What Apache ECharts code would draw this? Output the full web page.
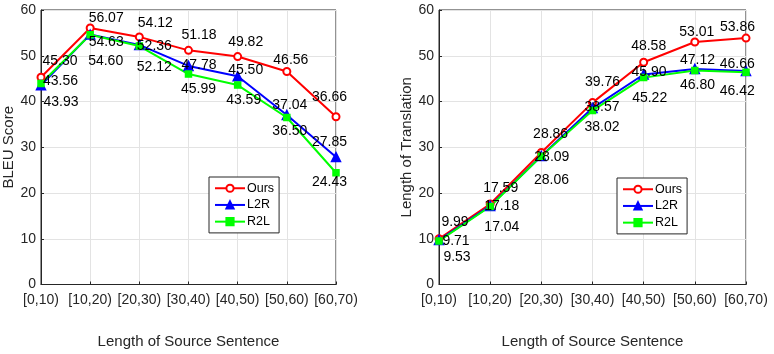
<!DOCTYPE html>
<html>
<head>
<meta charset="utf-8">
<script src="https://cdn.jsdelivr.net/npm/echarts@6/dist/echarts.min.js"></script>
<style>
html,body{margin:0;padding:0;background:#fff;}
#chart{width:774px;height:354px;}
</style>
</head>
<body>
<div id="chart"></div>
<script>
var categories = ['[0,10)','[10,20)','[20,30)','[30,40)','[40,50)','[50,60)','[60,70)'];
var yTicks = [0,10,20,30,40,50,60];

var bleuOurs = [45.30,56.07,54.12,51.18,49.82,46.56,36.66];
var bleuL2R  = [43.56,54.63,52.36,47.78,45.50,37.04,27.85];
var bleuR2L  = [43.93,54.60,52.12,45.99,43.59,36.50,24.43];

var lenOurs = [9.99,17.59,28.86,39.76,48.58,53.01,53.86];
var lenL2R  = [9.71,17.18,28.09,38.57,45.90,47.12,46.66];
var lenR2L  = [9.53,17.04,28.06,38.02,45.22,46.80,46.42];

// label offsets (pixels, relative to point), styling only
var offBleuOurs = [[19,-17.6],[16,-11],[16,-15],[10.5,-16.6],[8,-15],[4,-12],[-6.5,-20.7]];
var offBleuL2R  = [[19.5,-4.6],[16,6.6],[15,0],[10.5,-2],[8,-6.7],[3,-11],[-6.5,-16]];
var offBleuR2L  = [[20,17.8],[15.5,25],[15,20.5],[10,14],[6,14.5],[3,12.6],[-6.5,8]];
var offLenOurs = [[16,-17.7],[10.5,-16.7],[9.3,-19.7],[10,-21.8],[5,-17],[2,-11],[-8.5,-12]];
var offLenL2R  = [[17,0],[11.5,-1],[10.5,0],[9.5,-2],[5.4,-3],[2.6,-10],[-8.8,-8.3]];
var offLenR2L  = [[18,15.6],[11.7,19.8],[10.2,22.6],[9.5,15.2],[6,20],[2.6,14],[-8.8,18]];

var FONT = '"Liberation Sans", Arial, Helvetica, sans-serif';
var AXC = '#262626';

function mkData(vals, offs){
  return vals.map(function(v,i){
    return {value:v, label:{offset:[offs[i][0], offs[i][1] + 1]}};
  });
}

var styles = {
  'Ours': {color:'#ff0000', symbol:'emptyCircle', size:7},
  'L2R':  {color:'#0000ff', symbol:'triangle', size:9},
  'R2L':  {color:'#00ff00', symbol:'rect', size:6}
};

function mkSeries(name, vals, offs, idx){
  var s = styles[name];
  return {
    name:name, type:'line', xAxisIndex:idx, yAxisIndex:idx,
    data: mkData(vals, offs),
    symbol:s.symbol, symbolSize:s.size, showAllSymbol:true,
    lineStyle:{color:s.color, width:2},
    itemStyle:{color:s.color, borderColor:s.color, borderWidth:1.5},
    label:{show:true, position:'inside', align:'center', verticalAlign:'middle',
      color:'#000', fontFamily:FONT, fontSize:14,
      formatter:function(p){return p.value.toFixed(2);}},
    emphasis:{disabled:true},
    animation:false
  };
}

function mkX(idx){
  return {
    type:'category', gridIndex:idx, data:categories, boundaryGap:false,
    axisLine:{show:true, lineStyle:{color:AXC, width:1}},
    axisTick:{show:true, inside:true, length:3, interval:0, lineStyle:{color:AXC}},
    axisLabel:{color:AXC, fontFamily:FONT, fontSize:14, margin:8.5, interval:0},
    splitLine:{show:true, interval:0, lineStyle:{color:'#e3e3e3', width:1}},
    name:'Length of Source Sentence', nameLocation:'middle', nameGap:49.5,
    nameTextStyle:{color:AXC, fontFamily:FONT, fontSize:15}
  };
}
function mkY(idx, name, gap){
  return {
    type:'value', gridIndex:idx, min:yTicks[0], max:yTicks[yTicks.length-1], interval:10,
    axisLine:{show:true, lineStyle:{color:AXC, width:1}},
    axisTick:{show:true, inside:true, length:3, lineStyle:{color:AXC}},
    axisLabel:{color:AXC, fontFamily:FONT, fontSize:14, margin:5},
    splitLine:{show:true, lineStyle:{color:'#e3e3e3', width:1}},
    name:name, nameLocation:'middle', nameGap:gap, nameRotate:90,
    nameTextStyle:{color:AXC, fontFamily:FONT, fontSize:15}
  };
}
function mkLegend(left, top){
  return {
    data:['Ours','L2R','R2L'], orient:'vertical', left:left, top:top,
    itemWidth:30, itemHeight:9, itemGap:3.2,
    padding:[4.5,5,4.5,5], borderColor:AXC, borderWidth:1, backgroundColor:'#fff',
    textStyle:{color:'#000', fontFamily:FONT, fontSize:12.5, lineHeight:13.5, padding:[0,0,0,-3]},
    selectedMode:false
  };
}

var chart = echarts.init(document.getElementById('chart'), null, {renderer:'canvas'});
chart.setOption({
  animation:false,
  backgroundColor:'#fff',
  grid:[
    {left:41, top:10, width:295, height:276, show:true, borderColor:AXC, borderWidth:1, backgroundColor:'transparent'},
    {left:439, top:10, width:307, height:276, show:true, borderColor:AXC, borderWidth:1, backgroundColor:'transparent'}
  ],
  xAxis:[mkX(0), mkX(1)],
  yAxis:[mkY(0,'BLEU Score',25), mkY(1,'Length of Translation',25)],
  legend:[mkLegend(209,177), mkLegend(617,178)],
  series:[
    mkSeries('Ours', bleuOurs, offBleuOurs, 0),
    mkSeries('L2R', bleuL2R, offBleuL2R, 0),
    mkSeries('R2L', bleuR2L, offBleuR2L, 0),
    mkSeries('Ours', lenOurs, offLenOurs, 1),
    mkSeries('L2R', lenL2R, offLenL2R, 1),
    mkSeries('R2L', lenR2L, offLenR2L, 1)
  ]
});
</script>
</body>
</html>
